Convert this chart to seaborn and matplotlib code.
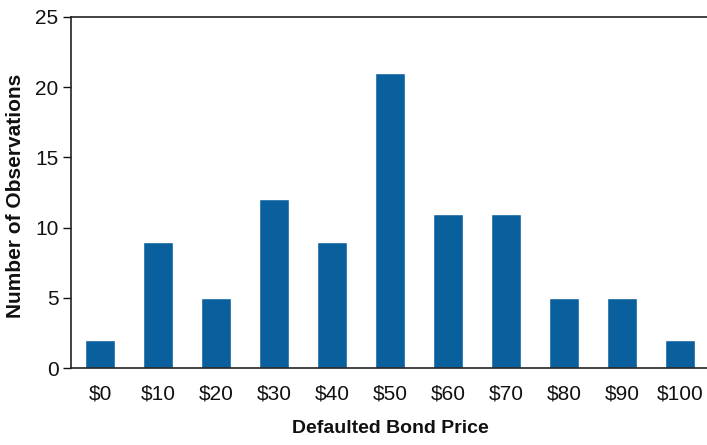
import matplotlib; matplotlib.use("Agg")
import matplotlib.pyplot as plt
import numpy as np
import pandas as pd
import seaborn as sns

prices = ["$0", "$10", "$20", "$30", "$40", "$50", "$60", "$70", "$80", "$90", "$100"]
counts = [2, 9, 5, 12, 9, 21, 11, 11, 5, 5, 2]
y_ticks = [0, 5, 10, 15, 20, 25]

sns.set_theme(style="white")
plt.rcParams["font.family"] = ["Liberation Sans", "DejaVu Sans"]

df = pd.DataFrame({"price": prices, "count": counts})

fig = plt.figure(figsize=(7.07, 4.45), dpi=100)
ax = fig.add_axes([0.1004, 0.173, 0.9024, 0.789])
sns.barplot(data=df, x="price", y="count", color="#0a609c", width=0.52,
            saturation=1, ax=ax)

ax.set_xlim(-0.5, len(prices) - 0.5)
ax.set_ylim(0, 25)
ax.set_yticks(y_ticks)
ax.set_xticks(np.arange(len(prices) + 1) - 0.5, minor=True)
ax.tick_params(axis="x", which="major", length=0, labelsize=15, pad=12, colors="#111111")
ax.tick_params(axis="x", which="minor", direction="inout", length=10, width=1, color="#111111")
ax.tick_params(axis="y", which="major", direction="out", length=6, width=1,
               labelsize=15, pad=3, colors="#111111", left=True)

for side in ["left", "bottom", "top"]:
    ax.spines[side].set_color("#222222"); ax.spines[side].set_linewidth(1.2)
ax.spines["right"].set_visible(False)

ax.set_xlabel("Defaulted Bond Price", fontsize=14, fontweight="bold", labelpad=12, color="#111111")
ax.set_ylabel("Number of Observations", fontsize=15, fontweight="bold", color="#111111")
ax.yaxis.set_label_coords(-0.072, 0.49)

fig.savefig("out.png", dpi=100, facecolor="white")
